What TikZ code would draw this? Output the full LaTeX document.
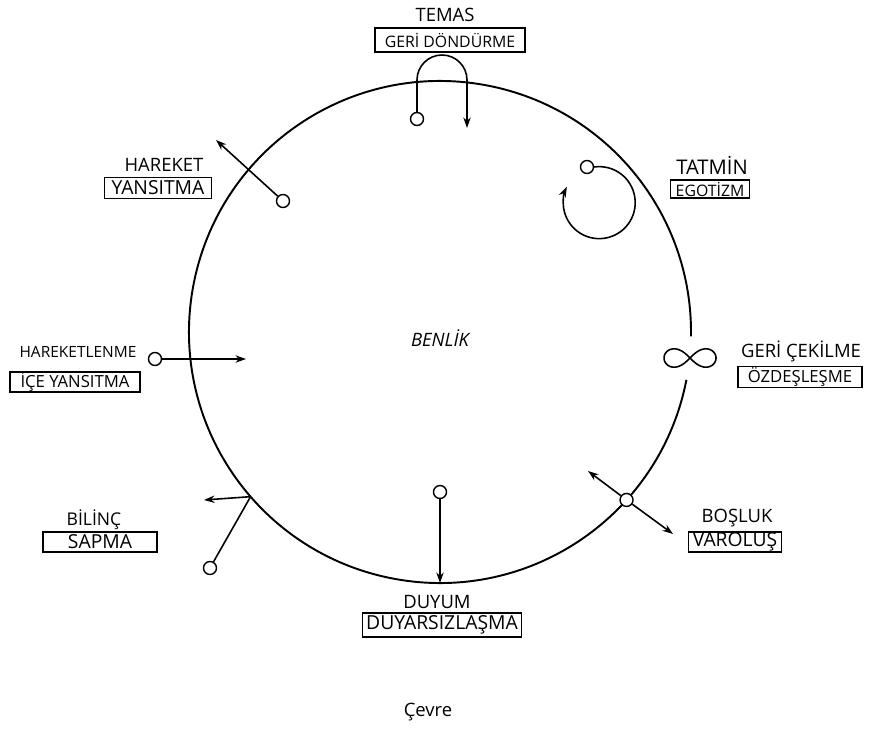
\documentclass[tikz,border=0pt]{standalone}
\usepackage{fontspec}
\setmainfont{Open Sans}
\usetikzlibrary{calc}
\usetikzlibrary{arrows.meta}

\begin{document}
\begin{tikzpicture}[x=0.02cm, y=-0.02cm, >={Stealth[length=6pt, width=4.2pt]},
        lbl/.style={font=\fontsize{10.5}{12}\selectfont, inner sep=0pt},
        tagbig/.style={draw, line width=0.8pt, font=\fontsize{11}{12}\selectfont, inner sep=0pt},
        tagsmall/.style={draw, line width=0.8pt, font=\fontsize{9}{10}\selectfont, inner sep=0pt},
        port/.style={circle, draw, fill=white, line width=0.8pt, inner sep=0pt, minimum size=0.26cm},
        flow/.style={line width=0.9pt}]
            \useasboundingbox (0,0) rectangle (871,729);

            % the self
            \coordinate (c) at (440,332);
            \draw [line width=1.1pt] ($(c)+(11:251)$) arc[start angle=11, end angle=361, radius=251];

            \node [lbl, font=\fontsize{10.5}{12}\selectfont\itshape] (benlik) at (440,338) {BENLİK};
            \node [lbl] (cevre) at (428,712) {Çevre};

            % labels and boxes
            \node [lbl] (temas) at (445,15) {TEMAS};
            \node [tagsmall, minimum width=3cm, minimum height=0.48cm] (temas-b) at (450,40) {GERİ DÖNDÜRME};

            \node [lbl, font=\fontsize{11.5}{12}\selectfont] (tatmin) at (712,165) {TATMİN};
            \node [tagsmall, minimum width=1.58cm, minimum height=0.36cm] (tatmin-b) at (710,189) {EGOTİZM};

            \node [lbl] (hareket) at (164,165) {HAREKET};
            \node [tagbig, minimum width=2.14cm, minimum height=0.42cm] (hareket-b) at (158,188) {YANSITMA};

            \node [lbl, font=\fontsize{8.8}{10}\selectfont] (harekn) at (78,352) {HAREKETLENME};
            \node [tagsmall, font=\fontsize{9.5}{10}\selectfont, minimum width=2.6cm, minimum height=0.40cm] (harekn-b) at (75,382) {İÇE YANSITMA};

            \node [lbl] (geri) at (801,351) {GERİ ÇEKİLME};
            \node [tagsmall, font=\fontsize{9.5}{10}\selectfont, minimum width=2.48cm, minimum height=0.42cm] (geri-b) at (800,377) {ÖZDEŞLEŞME};

            \node [lbl] (bosluk) at (737,518) {BOŞLUK};
            \node [tagbig, minimum width=1.86cm, minimum height=0.40cm] (bosluk-b) at (735,542) {VAROLUŞ};

            \node [lbl, font=\fontsize{10}{12}\selectfont] (bilinc) at (94,520) {BİLİNÇ};
            \node [tagbig, minimum width=2.28cm, minimum height=0.40cm] (bilinc-b) at (100,542) {SAPMA};

            \node [lbl] (duyum) at (437,602) {DUYUM};
            \node [tagbig, minimum width=3.18cm, minimum height=0.48cm] (duyum-b) at (442,625) {DUYARSIZLAŞMA};

            % temas
            \node [port] (temas-p) at (417,119) {};
            \coordinate (temas-e) at (467,128);
            \draw [flow, ->] (temas-p) -- (417,80) arc[start angle=180, end angle=360, radius=25] -- (temas-e);

            % tatmin
            \node [port] (tatmin-p) at (587,167) {};
            \draw [flow, ->] (tatmin-p.east) arc[start angle=262, end angle=566, radius=36];

            % hareket
            \node [port] (hareket-p) at (283,201) {};
            \coordinate (hareket-e) at (216,140);
            \draw [flow, ->] (hareket-p) -- (hareket-e);

            % hareketlenme
            \node [port] (harekn-p) at (155,359) {};
            \coordinate (harekn-e) at (246,359);
            \draw [flow, ->] (harekn-p) -- (harekn-e);

            % geri cekilme
            \draw [flow, shift={(690,358)}] plot[domain=0:360, samples=90, smooth cycle]
                ({26*cos(\x)/(1+sin(\x)^2)}, {26*sin(\x)*cos(\x)/(1+sin(\x)^2)});

            % bosluk
            \node [port] (bosluk-p) at ($(c)+(42:251)$) {};
            \coordinate (bosluk-in) at (588,471);
            \coordinate (bosluk-out) at (673,534);
            \draw [flow, ->] (bosluk-p) -- (bosluk-in);
            \draw [flow, ->] (bosluk-p) -- (bosluk-out);

            % bilinc
            \coordinate (bilinc-j) at ($(c)+(139:251)$);
            \coordinate (bilinc-e) at (204,500);
            \node [port] (bilinc-p) at (210,568) {};
            \draw [flow] (bilinc-p) -- (bilinc-j);
            \draw [flow, ->] (bilinc-j) -- (bilinc-e);

            % duyum
            \node [port] (duyum-p) at (440,492) {};
            \coordinate (duyum-e) at ($(c)+(90:251)$);
            \draw [flow, ->] (duyum-p) -- (duyum-e);
        \end{tikzpicture}
\end{document}
